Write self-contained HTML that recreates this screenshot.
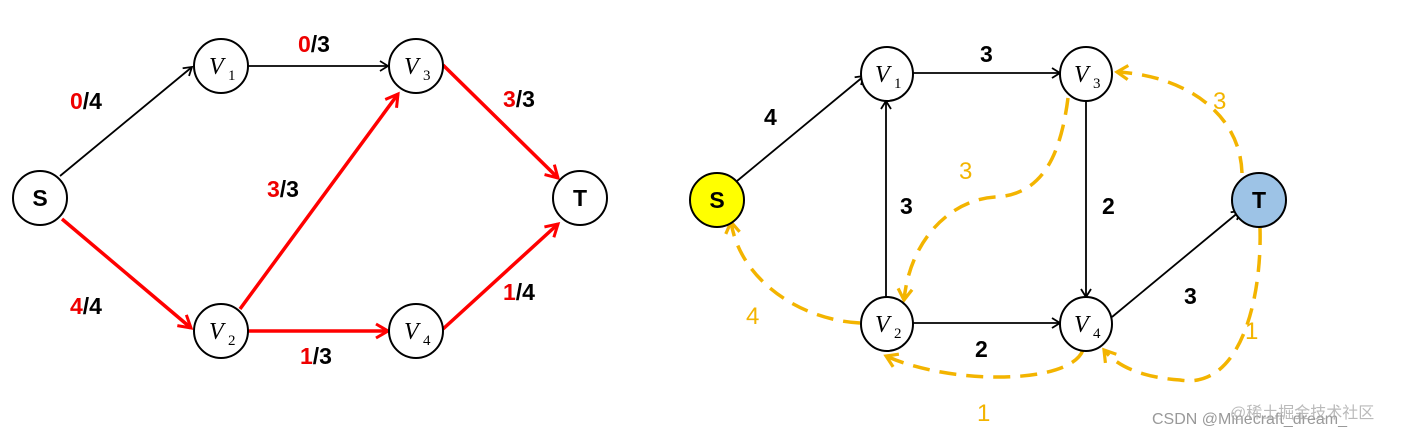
<!DOCTYPE html>
<html><head><meta charset="utf-8"><style>
html,body{margin:0;padding:0;background:#fff;}
svg{display:block;}
.b{font-family:"Liberation Sans",sans-serif;font-weight:bold;font-size:23px;}
.v{font-family:"Liberation Serif",serif;font-style:italic;font-size:24px;}
.s{font-family:"Liberation Serif",serif;font-size:15px;}
</style></head><body>
<svg width="1407" height="437" viewBox="0 0 1407 437" xmlns="http://www.w3.org/2000/svg">
<defs>
<marker id="ak" markerWidth="12" markerHeight="12" refX="10" refY="6" orient="auto" markerUnits="userSpaceOnUse"><path d="M2,1 L10,6 L2,11" fill="none" stroke="#000" stroke-width="1.8"/></marker>
<marker id="ar" markerWidth="18" markerHeight="18" refX="15" refY="9" orient="auto" markerUnits="userSpaceOnUse"><path d="M3,2 L15,9 L3,16" fill="none" stroke="#f00" stroke-width="3"/></marker>
<marker id="ay" markerWidth="18" markerHeight="18" refX="14" refY="9" orient="auto" markerUnits="userSpaceOnUse"><path d="M3,2 L14,9 L3,16" fill="none" stroke="#f3b400" stroke-width="3.2"/></marker>
</defs>
<!-- LEFT -->
<g fill="none">
<line x1="60" y1="176" x2="192" y2="67" stroke="#000" stroke-width="1.8" marker-end="url(#ak)"/>
<line x1="247" y1="66" x2="388" y2="66" stroke="#000" stroke-width="1.8" marker-end="url(#ak)"/>
<line x1="62" y1="219" x2="191" y2="328" stroke="#f00" stroke-width="3.5" marker-end="url(#ar)"/>
<line x1="240" y1="309" x2="398" y2="94" stroke="#f00" stroke-width="3.5" marker-end="url(#ar)"/>
<line x1="247" y1="331" x2="388" y2="331" stroke="#f00" stroke-width="3.5" marker-end="url(#ar)"/>
<line x1="443" y1="65" x2="558" y2="178" stroke="#f00" stroke-width="3.5" marker-end="url(#ar)"/>
<line x1="443" y1="329" x2="558" y2="224" stroke="#f00" stroke-width="3.5" marker-end="url(#ar)"/>
</g>
<g fill="#fff" stroke="#000" stroke-width="2">
<ellipse cx="40" cy="198" rx="27" ry="27"/>
<ellipse cx="221" cy="66" rx="27" ry="27"/>
<ellipse cx="416" cy="66" rx="27" ry="27"/>
<ellipse cx="221" cy="331" rx="27" ry="27"/>
<ellipse cx="416" cy="331" rx="27" ry="27"/>
<ellipse cx="580" cy="198" rx="27" ry="27"/>
</g>
<text x="40" y="206" class="b" text-anchor="middle">S</text>
<text x="580" y="206" class="b" text-anchor="middle">T</text>
<text x="209" y="74" class="v">V</text><text x="228" y="80" class="s">1</text>
<text x="404" y="74" class="v">V</text><text x="423" y="80" class="s">3</text>
<text x="209" y="339" class="v">V</text><text x="228" y="345" class="s">2</text>
<text x="404" y="339" class="v">V</text><text x="423" y="345" class="s">4</text>
<text x="70" y="109" class="b"><tspan fill="#e00">0</tspan>/4</text>
<text x="298" y="52" class="b"><tspan fill="#e00">0</tspan>/3</text>
<text x="503" y="107" class="b"><tspan fill="#e00">3</tspan>/3</text>
<text x="267" y="197" class="b"><tspan fill="#e00">3</tspan>/3</text>
<text x="70" y="314" class="b"><tspan fill="#e00">4</tspan>/4</text>
<text x="300" y="364" class="b"><tspan fill="#e00">1</tspan>/3</text>
<text x="503" y="300" class="b"><tspan fill="#e00">1</tspan>/4</text>
<!-- RIGHT -->
<g fill="none" stroke="#000" stroke-width="1.8">
<line x1="737" y1="181" x2="864" y2="76" marker-end="url(#ak)"/>
<line x1="913" y1="73" x2="1060" y2="73" marker-end="url(#ak)"/>
<line x1="886" y1="297" x2="886" y2="101" marker-end="url(#ak)"/>
<line x1="913" y1="323" x2="1060" y2="323" marker-end="url(#ak)"/>
<line x1="1086" y1="100" x2="1086" y2="297" marker-end="url(#ak)"/>
<line x1="1112" y1="317" x2="1240" y2="211" marker-end="url(#ak)"/>
</g>
<g fill="none" stroke="#f3b400" stroke-width="3.5" stroke-dasharray="17,10">
<path d="M1068,98 C1060,160 1040,195 995,197 C950,200 910,240 904,300" marker-end="url(#ay)"/>
<path d="M1242,173 C1240,110 1180,75 1117,72" marker-end="url(#ay)"/>
<path d="M860,323 C800,320 740,280 731,222" marker-end="url(#ay)"/>
<path d="M1083,350 C1070,385 950,385 886,356" marker-end="url(#ay)"/>
<path d="M1260,228 C1262,300 1240,390 1180,380 C1150,378 1120,370 1104,350" marker-end="url(#ay)"/>
</g>
<ellipse cx="717" cy="200" rx="27" ry="27" fill="#ffff00" stroke="#000" stroke-width="2"/>
<ellipse cx="1259" cy="200" rx="27" ry="27" fill="#9dc3e6" stroke="#000" stroke-width="2"/>
<g fill="#fff" stroke="#000" stroke-width="2">
<ellipse cx="887" cy="74" rx="26" ry="27"/>
<ellipse cx="1086" cy="74" rx="26" ry="27"/>
<ellipse cx="887" cy="324" rx="26" ry="27"/>
<ellipse cx="1086" cy="324" rx="26" ry="27"/>
</g>
<text x="717" y="208" class="b" text-anchor="middle">S</text>
<text x="1259" y="208" class="b" text-anchor="middle">T</text>
<text x="875" y="82" class="v">V</text><text x="894" y="88" class="s">1</text>
<text x="1074" y="82" class="v">V</text><text x="1093" y="88" class="s">3</text>
<text x="875" y="332" class="v">V</text><text x="894" y="338" class="s">2</text>
<text x="1074" y="332" class="v">V</text><text x="1093" y="338" class="s">4</text>
<g class="b">
<text x="980" y="62">3</text>
<text x="764" y="125">4</text>
<text x="900" y="214">3</text>
<text x="1102" y="214">2</text>
<text x="1184" y="304">3</text>
<text x="975" y="357">2</text>
</g>
<g font-family="Liberation Sans,sans-serif" font-size="24" fill="#f3b400">
<text x="1213" y="109">3</text>
<text x="959" y="179">3</text>
<text x="746" y="324">4</text>
<text x="977" y="421">1</text>
<text x="1245" y="339">1</text>
</g>
<text x="1152" y="424" font-family="Liberation Sans,sans-serif" font-size="16" fill="#999">CSDN @Minecraft_dream_</text>
<text x="1230" y="418" font-family="Liberation Sans,Noto Sans CJK SC,sans-serif" font-size="16" fill="#aaa" opacity="0.8">@稀土掘金技术社区</text>
</svg>
</body></html>
